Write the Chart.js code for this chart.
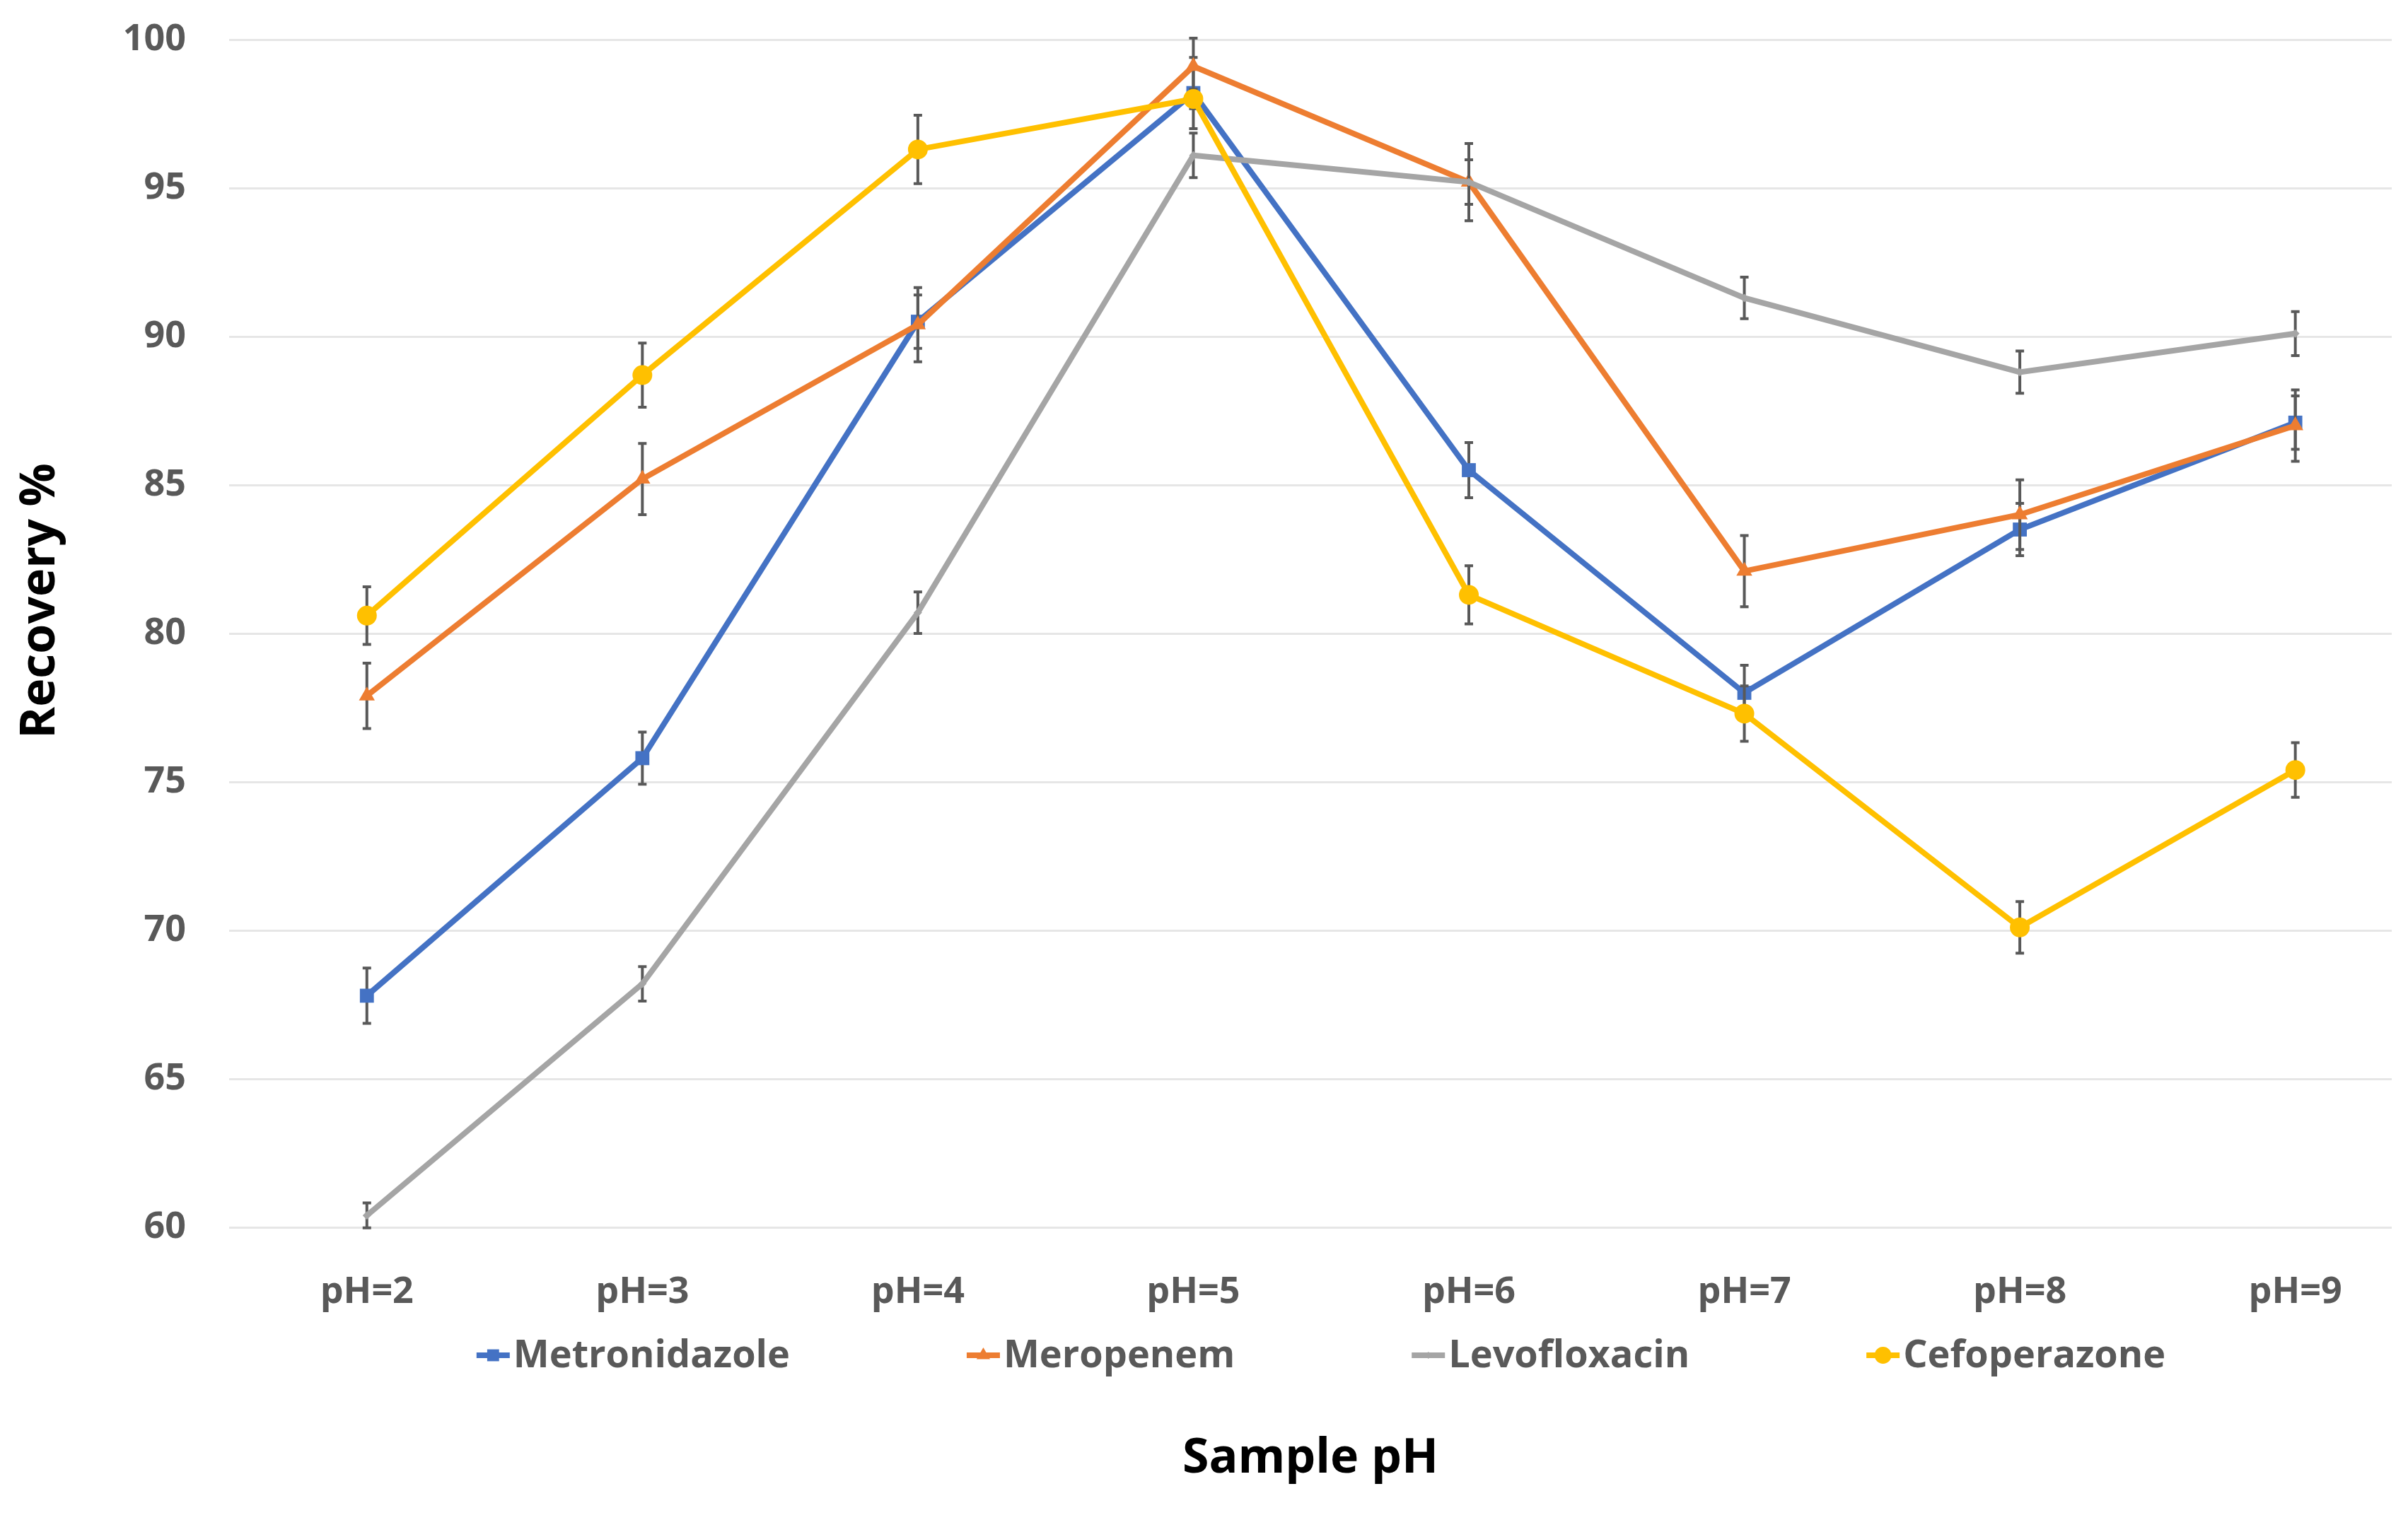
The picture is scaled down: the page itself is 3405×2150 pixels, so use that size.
<!DOCTYPE html>
<html>
<head>
<meta charset="utf-8">
<script src="https://cdn.jsdelivr.net/npm/chart.js@4.4.1/dist/chart.umd.min.js"></script>
<style>
  html, body { margin: 0; padding: 0; background: #fff; overflow: hidden; }
  #wrap { width: 3405px; height: 2150px; position: relative; }
</style>
</head>
<body>
<div id="wrap"><canvas id="chart"></canvas></div>
<script>
const categories = ['pH=2', 'pH=3', 'pH=4', 'pH=5', 'pH=6', 'pH=7', 'pH=8', 'pH=9']
const phValues = [2, 3, 4, 5, 6, 7, 8, 9]
const yTicks = [60, 65, 70, 75, 80, 85, 90, 95, 100]

const metronidazole    = [67.8, 75.8, 90.5, 98.2, 85.5, 78.0, 83.5, 87.1]
const metronidazoleErr = [0.93, 0.88, 0.90, 1.20, 0.93, 0.93, 0.88, 0.90]
const meropenem        = [77.9, 85.2, 90.4, 99.1, 95.2, 82.1, 84.0, 87.0]
const meropenemErr     = [1.10, 1.20, 1.25, 0.95, 1.30, 1.20, 1.17, 1.20]
const levofloxacin     = [60.4, 68.2, 80.7, 96.1, 95.2, 91.3, 88.8, 90.1]
const levofloxacinErr  = [0.42, 0.58, 0.70, 0.75, 0.75, 0.70, 0.71, 0.74]
const cefoperazone     = [80.6, 88.7, 96.3, 98.0, 81.3, 77.3, 70.1, 75.4]
const cefoperazoneErr  = [0.97, 1.08, 1.15, 0.33, 0.98, 0.93, 0.87, 0.92]

const X_TITLE = 'Sample pH'
const Y_TITLE = 'Recovery %'

const FONT = '"Open Sans", "Noto Sans", sans-serif'
const TICK_COLOR = '#595959'
const ERR_COLOR = '#595959'

function series(label, values, errors, color, pointStyle, radius, order) {
  return {
    label,
    data: values.map((v, i) => ({ x: phValues[i], y: v })),
    errors,
    borderColor: color,
    backgroundColor: color,
    pointBackgroundColor: color,
    pointBorderColor: color,
    pointBorderWidth: 0,
    pointStyle,
    pointRadius: radius,
    borderWidth: 8,
    tension: 0,
    fill: false,
    order,
  }
}

const datasets = [
  series('Metronidazole', metronidazole, metronidazoleErr, '#4472C4', 'rect', 14, 3),
  series('Meropenem', meropenem, meropenemErr, '#ED7D31', 'triangle', 13, 2),
  series('Levofloxacin', levofloxacin, levofloxacinErr, '#A5A5A5', 'rectRot', 6, 1),
  series('Cefoperazone', cefoperazone, cefoperazoneErr, '#FFC000', 'circle', 14, 0),
]

// error bars, drawn under each series' own line and markers
const errorBars = {
  id: 'errorBars',
  beforeDatasetDraw(chart, args) {
    const ds = chart.data.datasets[args.index]
    if (!ds.errors) return
    const y = chart.scales.y
    const ctx = chart.ctx
    ctx.save()
    ctx.strokeStyle = ERR_COLOR
    ctx.lineWidth = 4
    args.meta.data.forEach((pt, i) => {
      const v = ds.data[i].y
      const e = ds.errors[i]
      const top = y.getPixelForValue(v + e)
      const bot = y.getPixelForValue(v - e)
      ctx.beginPath()
      ctx.moveTo(pt.x, top); ctx.lineTo(pt.x, bot)
      ctx.moveTo(pt.x - 6, top); ctx.lineTo(pt.x + 6, top)
      ctx.moveTo(pt.x - 6, bot); ctx.lineTo(pt.x + 6, bot)
      ctx.stroke()
    })
    ctx.restore()
  }
}

// legend between tick labels and x title, plus the y title
const extras = {
  id: 'extras',
  afterDraw(chart) {
    const ctx = chart.ctx
    const area = chart.chartArea
    ctx.save()

    ctx.fillStyle = '#000'
    ctx.font = `bold 68px ${FONT}`
    ctx.textAlign = 'center'
    ctx.textBaseline = 'middle'
    ctx.translate(58, 850)
    ctx.rotate(-Math.PI / 2)
    ctx.fillText(Y_TITLE, 0, 0)
    ctx.setTransform(1, 0, 0, 1, 0, 0)

    ctx.font = `bold 54px ${FONT}`
    ctx.textAlign = 'left'
    const lineLen = 47, gapText = 5, gapItem = 250
    const items = chart.data.datasets.slice()
    const widths = items.map(d => ctx.measureText(d.label).width)
    const total = widths.reduce((s, w) => s + lineLen + gapText + w, 0) + gapItem * (items.length - 1)
    let x = (area.left + area.right) / 2 + 15 - total / 2
    const yc = 1917
    items.forEach((d, i) => {
      ctx.strokeStyle = d.borderColor
      ctx.lineWidth = 8
      ctx.beginPath()
      ctx.moveTo(x, yc); ctx.lineTo(x + lineLen, yc)
      ctx.stroke()
      ctx.fillStyle = d.borderColor
      Chart.helpers.drawPoint(ctx, { pointStyle: d.pointStyle, radius: d.pointRadius * 0.85, rotation: 0, borderWidth: 0 }, x + lineLen / 2, yc)
      ctx.fillStyle = TICK_COLOR
      ctx.fillText(d.label, x + lineLen + gapText, yc + 2)
      x += lineLen + gapText + widths[i] + gapItem
    })
    ctx.restore()
  }
}

new Chart(document.getElementById('chart'), {
  type: 'line',
  data: { datasets },
  plugins: [errorBars, extras],
  options: {
    responsive: true,
    maintainAspectRatio: false,
    animation: false,
    layout: { padding: { top: 56, right: 23, left: 0, bottom: 0 } },
    plugins: { legend: { display: false }, tooltip: { enabled: false } },
    scales: {
      x: {
        type: 'linear',
        min: 1.5,
        max: 9.35,
        grid: { display: false },
        border: { display: false },
        afterBuildTicks: s => { s.ticks = phValues.map(v => ({ value: v })) },
        ticks: {
          padding: 53,
          autoSkip: false,
          maxRotation: 0,
          color: TICK_COLOR,
          font: { family: FONT, size: 52, weight: 'bold' },
          callback: v => categories[phValues.indexOf(v)] ?? '',
        },
        title: {
          display: true,
          text: X_TITLE,
          color: '#000',
          font: { family: FONT, size: 68, weight: 'bold' },
          padding: { top: 0, bottom: 46 },
        },
        afterFit: s => { s.height = 414; s.paddingLeft = 0; s.paddingRight = 0 },
      },
      y: {
        min: 60,
        max: 100,
        grid: { color: '#e6e6e6', lineWidth: 3, drawTicks: false },
        border: { display: false },
        afterBuildTicks: s => { s.ticks = yTicks.map(v => ({ value: v })) },
        ticks: {
          padding: 61,
          color: TICK_COLOR,
          font: { family: FONT, size: 52, weight: 'bold' },
        },
        afterFit: s => { s.width = 324; s.paddingTop = 0; s.paddingBottom = 0 },
      },
    },
  },
})
</script>
</body>
</html>
